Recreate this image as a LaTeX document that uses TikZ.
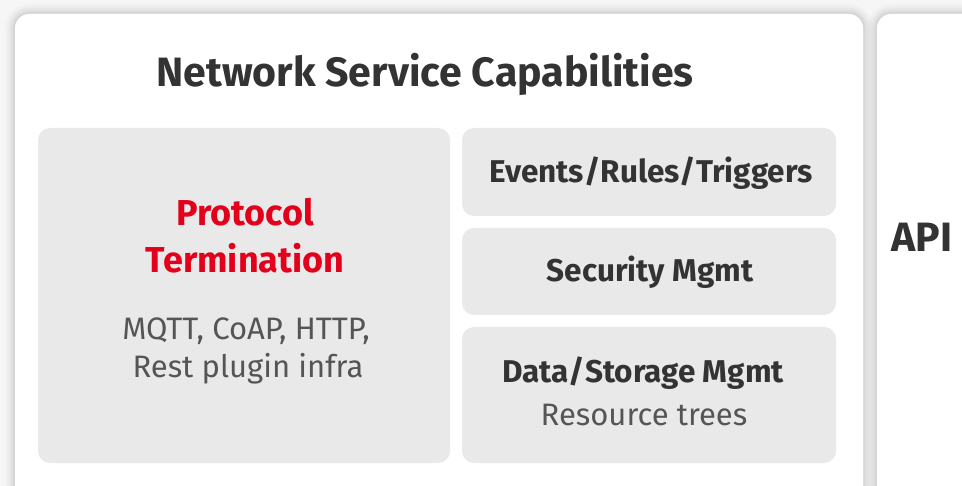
\documentclass[tikz,border=0pt]{standalone}
\usepackage{fontspec}
\setmainfont{Fira Sans}
\definecolor{bgc}{HTML}{F6F6F6}
\definecolor{boxc}{HTML}{E9E9E9}
\definecolor{txt}{HTML}{333333}
\definecolor{subt}{HTML}{555555}
\definecolor{redc}{HTML}{E2001A}
\tikzset{
  panel/.style={fill=white, rounded corners=14pt},
  inner/.style={fill=boxc, rounded corners=12pt, inner sep=0pt, draw=none},
  ttl/.style={text=txt, font=\bfseries\fontsize{41}{46}\selectfont, anchor=base, inner sep=0pt},
  btl/.style={text=txt, font=\bfseries\fontsize{31.5}{36}\selectfont, anchor=base, inner sep=0pt},
  rtl/.style={text=redc, font=\bfseries\fontsize{36}{40}\selectfont, anchor=base, inner sep=0pt},
  sub/.style={text=subt, font=\fontsize{31}{36}\selectfont, anchor=base, inner sep=0pt},
}
\begin{document}
\begin{tikzpicture}[x=1pt,y=-1pt]
\useasboundingbox (0,0) rectangle (962,486);
\fill[bgc] (0,0) rectangle (962,486);
% soft shadows
\foreach \d/\o in {10/0.015,8/0.02,6/0.025,4/0.03,2/0.04}{
  \fill[black, opacity=\o, rounded corners=14pt+\d pt] (15-\d,14-\d) rectangle (863+\d,530);
  \fill[black, opacity=\o, rounded corners=14pt+\d pt] (877-\d,14-\d) rectangle (1010,530);
}
\fill[panel] (15,14) rectangle (863,530);
\fill[panel] (877,14) rectangle (1010,530);
% inner boxes
\node[inner, minimum width=412pt, minimum height=335pt] (proto) at (244,295.5) {};
\node[inner, minimum width=374pt, minimum height=88pt] (events) at (649,172) {};
\node[inner, minimum width=374pt, minimum height=87pt] (security) at (649,271.5) {};
\node[inner, minimum width=374pt, minimum height=136pt] (data) at (649,395) {};
% texts
\node[ttl] (title) at (425,87) {Network Service Capabilities};
\node[rtl] (p1) at (245,226) {Protocol};
\node[rtl] (p2) at (245,273) {Termination};
\node[sub] (s1) at (246,340) {MQTT, CoAP, HTTP,};
\node[sub] (s2) at (248,378) {Rest plugin infra};
\node[btl] (t1) at (651,183) {Events/Rules/Triggers};
\node[btl] (t2) at (650,282) {Security Mgmt};
\node[btl] (t3) at (643,383) {Data/Storage Mgmt};
\node[sub] (t4) at (644,425) {Resource trees};
\node[ttl] (api) at (922,252) {API};
\end{tikzpicture}
\end{document}
